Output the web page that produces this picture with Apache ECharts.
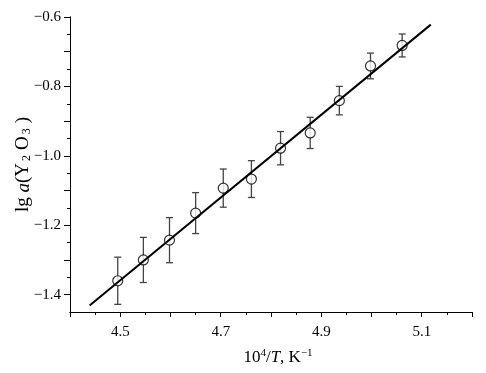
<!DOCTYPE html>
<html>
<head>
<meta charset="utf-8">
<script src="https://cdn.jsdelivr.net/npm/echarts@6/dist/echarts.min.js"></script>
<style>html,body{margin:0;padding:0;background:#fff;}#c{width:486px;height:373px;}</style>
</head>
<body>
<div id="c"></div>
<script>
// ---- data ----
const xValues = [4.495, 4.546, 4.598, 4.650, 4.705, 4.761, 4.819, 4.878, 4.936, 4.998, 5.061];
const yValues = [-1.360, -1.300, -1.243, -1.165, -1.093, -1.067, -0.978, -0.934, -0.841, -0.741, -0.682];
const yErrors = [0.068, 0.065, 0.065, 0.059, 0.055, 0.053, 0.048, 0.045, 0.041, 0.037, 0.033];
const fitX = [4.439, 5.118];
const fitY = [-1.431, -0.622];

const xMajorTicks = [4.4, 4.5, 4.6, 4.7, 4.8, 4.9, 5.0, 5.1, 5.2];
const xMinorTicks = [4.45, 4.55, 4.65, 4.75, 4.85, 4.95, 5.05, 5.15];
const xTickLabels = [4.5, 4.7, 4.9, 5.1];
const yMajorTicks = [-1.4, -1.3, -1.2, -1.1, -1.0, -0.9, -0.8, -0.7, -0.6];
const yMinorTicks = [-1.35, -1.25, -1.15, -1.05, -0.95, -0.85, -0.75, -0.65];
const yTickLabels = [-1.4, -1.2, -1.0, -0.8, -0.6];

const FONT = '"Liberation Serif", "DejaVu Serif", serif';
const fmt = v => (v < 0 ? '\u2212' : '') + Math.abs(v).toFixed(1);

const chart = echarts.init(document.getElementById('c'), null, {renderer: 'canvas'});

const baseAxisStyle = {
  axisLine: {show: true, onZero: false, lineStyle: {color: '#000', width: 1}},
  splitLine: {show: false}
};

const option = {
  backgroundColor: '#fff',
  animation: false,
  grid: {left: 70, right: 14, top: 17, bottom: 61, containLabel: false, outerBoundsMode: 'none'},
  xAxis: [
    Object.assign({
      type: 'value', min: 4.4, max: 5.2, position: 'bottom',
      axisTick: {show: true, length: 5, customValues: xMajorTicks, lineStyle: {color: '#000'}},
      axisLabel: {show: true, customValues: xTickLabels, margin: 13, color: '#000', fontFamily: FONT, fontSize: 15,
                  formatter: v => v.toFixed(1)},
      name: '10{sup|4}/{i|T}, K{sup|\u22121}',
      nameLocation: 'middle', nameGap: 36,
      nameTextStyle: {color: '#000', fontFamily: FONT, fontSize: 17, padding: [0, 0, 0, 14],
        rich: {
          sup: {fontFamily: FONT, fontSize: 11, verticalAlign: 'top', color: '#000', padding: [0, 0, 8, 0]},
          i: {fontFamily: FONT, fontSize: 17, fontStyle: 'italic', color: '#000'}
        }}
    }, baseAxisStyle),
    Object.assign({
      type: 'value', min: 4.4, max: 5.2, position: 'bottom',
      axisTick: {show: true, length: 3, customValues: xMinorTicks, lineStyle: {color: '#000'}},
      axisLabel: {show: false}
    }, baseAxisStyle)
  ],
  yAxis: [
    Object.assign({
      type: 'value', min: -1.45, max: -0.6, position: 'left',
      axisTick: {show: true, length: 6, customValues: yMajorTicks, lineStyle: {color: '#000'}},
      axisLabel: {show: true, customValues: yTickLabels, margin: 9, color: '#000', fontFamily: FONT, fontSize: 15,
                  formatter: fmt},
      name: 'lg {i|a}(Y{sub|2}O{sub|3})',
      nameLocation: 'middle', nameGap: 37, nameRotate: 90, nameMoveOverlap: false,
      nameTextStyle: {color: '#000', fontFamily: FONT, fontSize: 19,
        rich: {
          sub: {fontFamily: FONT, fontSize: 12, verticalAlign: 'bottom', color: '#000', padding: [6, 5, 0, 2]},
          i: {fontFamily: FONT, fontSize: 19, fontStyle: 'italic', color: '#000'}
        }}
    }, baseAxisStyle),
    Object.assign({
      type: 'value', min: -1.45, max: -0.6, position: 'left', offset: 0,
      axisTick: {show: true, length: 3, customValues: yMinorTicks, lineStyle: {color: '#000'}},
      axisLabel: {show: false}
    }, baseAxisStyle)
  ],
  series: [
    {
      type: 'custom',
      xAxisIndex: 0, yAxisIndex: 0,
      z: 2,
      data: xValues.map((x, i) => [x, yValues[i] - yErrors[i], yValues[i] + yErrors[i]]),
      renderItem: function (params, api) {
        const lo = api.coord([api.value(0), api.value(1)]);
        const hi = api.coord([api.value(0), api.value(2)]);
        const w = 3.5;
        const st = {stroke: '#444', lineWidth: 1.3, fill: null};
        return {
          type: 'group',
          children: [
            {type: 'line', shape: {x1: lo[0], y1: lo[1], x2: hi[0], y2: hi[1]}, style: st},
            {type: 'line', shape: {x1: lo[0] - w, y1: lo[1], x2: lo[0] + w, y2: lo[1]}, style: st},
            {type: 'line', shape: {x1: hi[0] - w, y1: hi[1], x2: hi[0] + w, y2: hi[1]}, style: st}
          ]
        };
      }
    },
    {
      type: 'scatter',
      xAxisIndex: 0, yAxisIndex: 0,
      z: 3,
      symbol: 'circle', symbolSize: 10,
      itemStyle: {color: '#fff', borderColor: '#000', borderWidth: 1.2},
      data: xValues.map((x, i) => [x, yValues[i]])
    },
    {
      type: 'line',
      xAxisIndex: 0, yAxisIndex: 0,
      z: 4,
      showSymbol: false, symbol: 'none',
      lineStyle: {color: '#000', width: 2},
      data: fitX.map((x, i) => [x, fitY[i]])
    }
  ]
};
chart.setOption(option);
</script>
</body>
</html>
